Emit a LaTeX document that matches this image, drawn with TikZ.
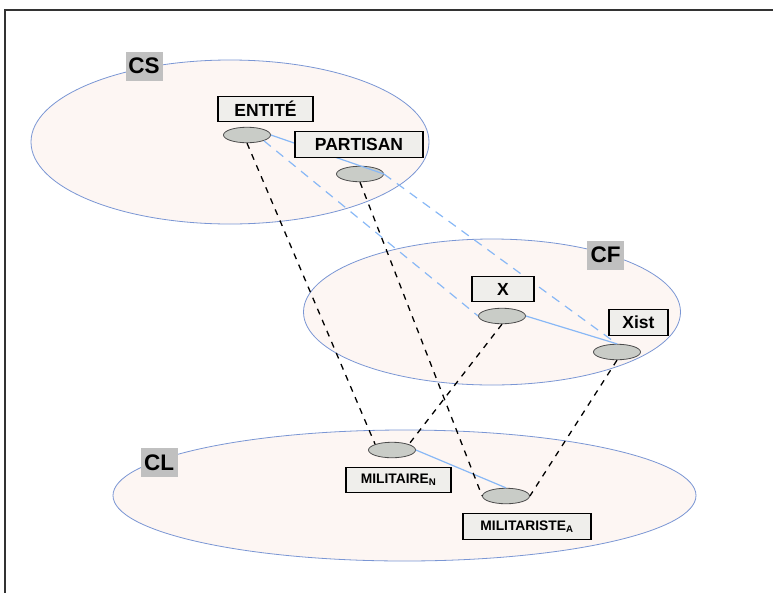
\documentclass[tikz,border=0pt]{standalone}
\usepackage{fontspec}
\setmainfont{Liberation Sans}
\usetikzlibrary{shapes.geometric}
\definecolor{zonefill}{RGB}{253,246,243}
\definecolor{zoneline}{RGB}{122,150,212}
\definecolor{nodefill}{RGB}{201,204,199}
\definecolor{boxfill}{RGB}{239,238,235}
\definecolor{linkblue}{RGB}{136,184,246}
\definecolor{tagfill}{RGB}{192,192,192}

\begin{document}
\begin{tikzpicture}[x=1pt,y=-1pt,
  zone/.style={ellipse, draw=zoneline, fill=zonefill, line width=0.8pt, inner sep=0},
  sense/.style={ellipse, draw=black!70, fill=nodefill, line width=0.8pt, inner sep=0,
                minimum width=47pt, minimum height=15.5pt},
  wordbox/.style={draw=black, fill=boxfill, line width=1.3pt, inner sep=0,
                  minimum height=25.5pt, font=\bfseries\fontsize{17.5}{20}\selectfont},
  smallbox/.style={wordbox, font=\bfseries\fontsize{13.8}{16}\selectfont},
  tag/.style={fill=tagfill, inner sep=0, minimum width=37pt, minimum height=29pt,
              font=\bfseries\fontsize{22.5}{26}\selectfont},
  bond/.style={draw=linkblue, line width=1.2pt},
  bonddash/.style={bond, dash pattern=on 9pt off 7pt},
  link/.style={draw=black, line width=1.3pt, dash pattern=on 6pt off 6pt}]
\useasboundingbox (0,0) rectangle (773,592);

% frame
\draw[black!80, line width=1.4pt] (5,593) -- (5,10) -- (774,10);

% the three zones
\node[zone, minimum width=398pt, minimum height=164pt] (cs) at (230,142) {};
\node[zone, minimum width=377pt, minimum height=146pt] (cf) at (492,312) {};
\node[zone, minimum width=583pt, minimum height=131pt] (cl) at (404.5,495.5) {};

% sense nodes
\node[sense] (ent)  at (247,135) {};
\node[sense] (par)  at (360,174) {};
\node[sense] (xx)   at (502,316) {};
\node[sense] (xist) at (617,352) {};
\node[sense] (mil)  at (392,450) {};
\node[sense] (mlt)  at (506,496) {};

% links inside a zone
\draw[bond] (ent.east) -- (par.east);
\draw[bond] (xx.east) -- (xist.north);
\draw[bond] (mil.east) -- (mlt.north);

% links between CS and CF
\draw[bonddash] (ent.south east) -- (xx.west);
\draw[bonddash] (par.east) -- (xist.north);

% links down to CL
\draw[link] (ent.south) -- (mil.north west);
\draw[link] (par.south) -- (mlt.west);
\draw[link] (xx.south) -- (mil.north east);
\draw[link] (xist.south) -- (mlt.east);

% word labels
\node[wordbox, minimum width=95pt]  (lent)  at (265.5,109) {ENTITÉ};
\node[wordbox, minimum width=128pt] (lpar)  at (359,144.5) {PARTISAN};
\node[wordbox, minimum width=62pt]  (lx)    at (503,289) {X};
\node[wordbox, minimum width=59pt]  (lxist) at (638.5,322.5) {Xist};
\node[smallbox, minimum width=105pt] (lmil) at (398.5,480) {MILITAIRE\textsubscript{N}};
\node[smallbox, minimum width=128pt] (lmlt) at (527,526.5) {MILITARISTE\textsubscript{A}};

% zone tags
\node[tag] (tcs) at (144,66) {CS};
\node[tag] (tcf) at (605.5,255) {CF};
\node[tag] (tcl) at (159,462.5) {CL};
\end{tikzpicture}
\end{document}
